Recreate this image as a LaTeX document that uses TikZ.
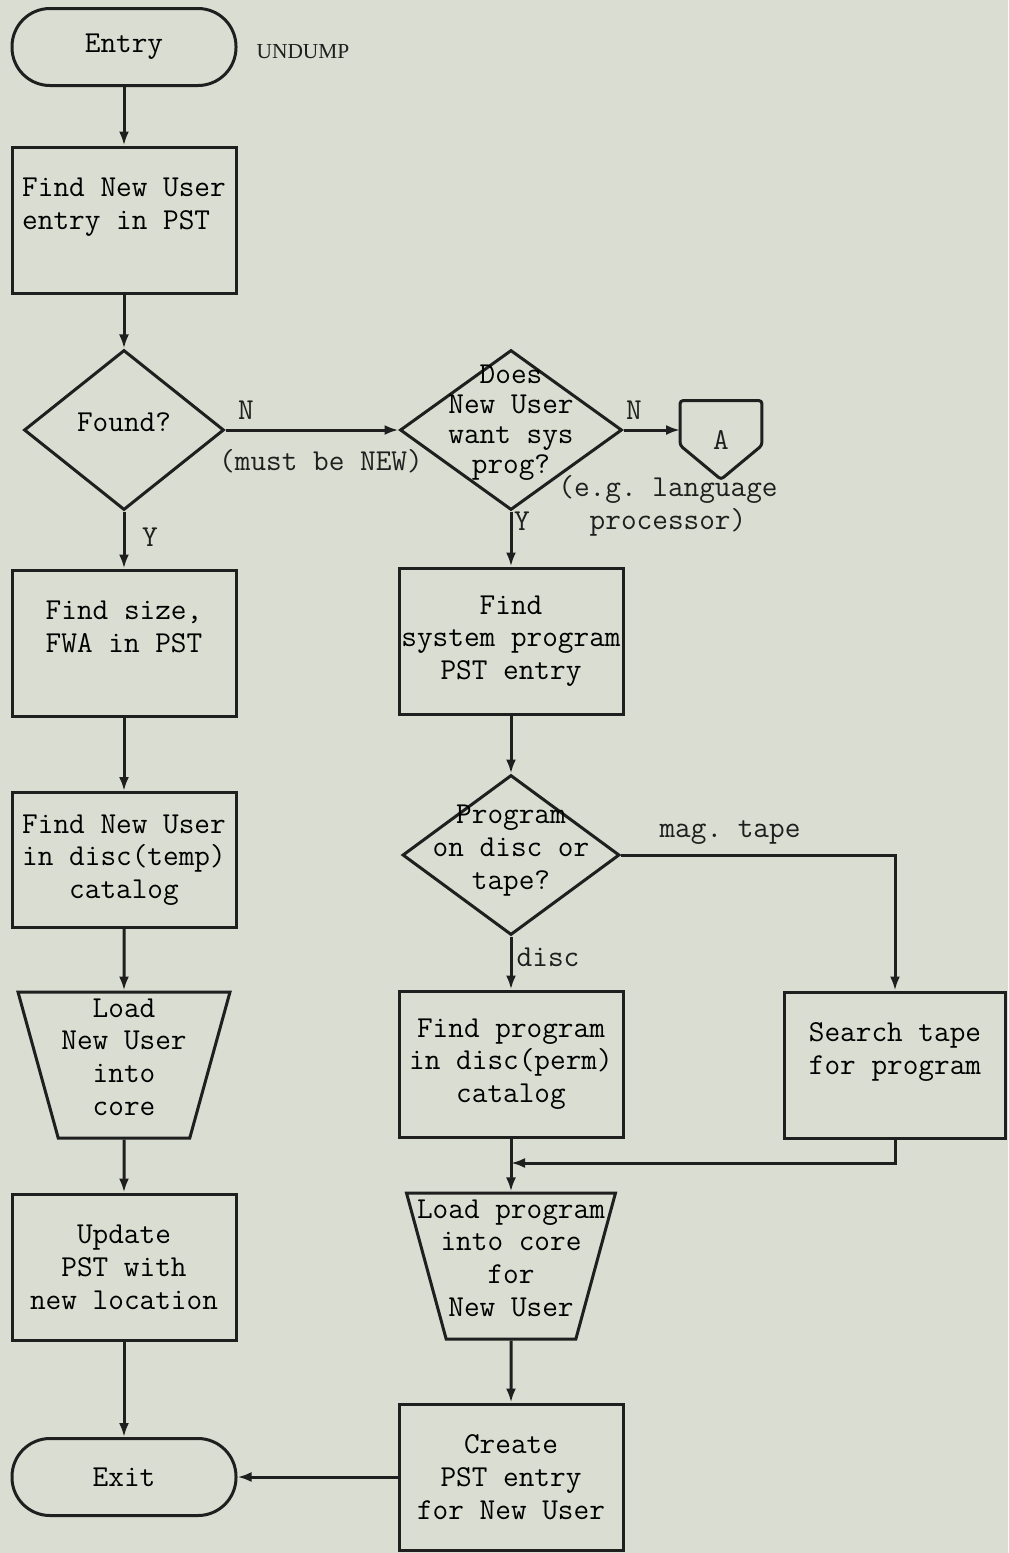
\documentclass[tikz,border=0pt]{standalone}
\usepackage{fontspec}
\setmainfont{Liberation Serif}
\usepackage{xcolor}
\usetikzlibrary{positioning, arrows.meta, shapes.geometric}
\definecolor{paper}{HTML}{DADDD1}
\definecolor{ink}{HTML}{1F1F1F}
\frenchspacing
\newcommand{\flowfont}{\ttfamily\fontsize{15.2pt}{16.4pt}\selectfont}
\newcommand{\ctext}[1]{\makebox[2pt]{\smash{\begin{tabular}{@{}c@{}}#1\end{tabular}}}\rule{0pt}{2pt}}

\tikzset{
  stepbox/.style={draw=ink, line width=1.5pt, rectangle, inner sep=0pt,
    minimum width=112pt, minimum height=73pt, align=center, font=\flowfont},
  termbox/.style={draw=ink, line width=1.5pt, rectangle, rounded corners=19pt,
    minimum width=112pt, minimum height=38.5pt, font=\flowfont},
  decision/.style={draw=ink, line width=1.5pt, diamond, inner sep=0pt,
    minimum height=80pt, font=\flowfont},
  loadbox/.style={draw=ink, line width=1.5pt, trapezium, trapezium left angle=73,
    trapezium right angle=73, shape border rotate=180, trapezium stretches=true,
    inner sep=0pt, minimum width=106pt, minimum height=73pt, font=\flowfont},
  flow/.style={draw=ink, line width=1.5pt, -{Latex[length=7pt,width=5pt]}},
  tag/.style={font=\flowfont, inner sep=0pt, text=ink},
}

\begin{document}
\begin{tikzpicture}[x=0.5pt, y=-0.5pt]
  \fill[paper] (0,0) rectangle (1008,1553);
  \useasboundingbox (0,0) rectangle (1008,1553);

  % left column
  \node[termbox] (entry) at (124,47) {Entry};
  \node[font=\fontsize{10.7pt}{12pt}\selectfont, inner sep=0pt, text=ink] (progname) at (303,52) {UNDUMP};
  \node[stepbox, align=left] (finduser) at (124,220) {Find New User\\entry in PST\\\mbox{}};
  \node[decision, minimum width=100pt] (found) at (124,430) {\ctext{Found?}};
  \node[stepbox] (findsize) at (124,643) {Find size,\\FWA in PST\\\mbox{}};
  \node[stepbox, minimum height=67.5pt] (findtemp) at (124,860) {Find New User\\in disc(temp)\\catalog};
  \node[loadbox] (loaduser) at (124,1065) {\ctext{Load\\New User\\into\\core}};
  \node[stepbox] (update) at (124,1267) {Update\\PST with\\new location};
  \node[termbox] (exit) at (124,1477) {Exit};

  % right column
  \node[decision, minimum width=111pt] (wantsys) at (511,430)
    {\raisebox{3pt}{\ctext{Does\\[-1.5pt]New User\\[-1.5pt]want sys\\[-1.5pt]prog?}}};
  \node[minimum width=40.5pt, minimum height=39pt, inner sep=0pt, font=\flowfont, text=ink] (conA) at (721,440) {A};
  \draw[ink, line width=1.5pt, rounded corners=1.5pt] (conA.north west) -- (conA.north east)
    -- ([yshift=17pt]conA.south east) -- (conA.south) -- ([yshift=17pt]conA.south west) -- cycle;
  \node[stepbox] (findsys) at (511,641) {Find\\system program\\PST entry};
  \node[decision, minimum width=108.5pt] (where) at (511,855) {\ctext{Program\\on disc or\\tape?}};
  \node[stepbox] (findperm) at (511,1064) {Find program\\in disc(perm)\\catalog};
  \node[stepbox, minimum width=110.5pt] (search) at (895,1065) {Search tape\\for program\\\mbox{}};
  \node[loadbox, minimum width=104.5pt] (loadprog) at (511,1266) {\ctext{Load program\\into core\\for\\New User}};
  \node[stepbox] (create) at (511,1477) {Create\\PST entry\\for New User};
  \coordinate (join) at (511,1163);

  % labels
  \node[tag] (nofound) at (246,410) {N};
  \node[tag] (mustnew) at (321,461) {(must be NEW)};
  \node[tag] (yesfound) at (150,537) {Y};
  \node[tag] (nosys) at (634,410) {N};
  \node[tag, align=center] (example) at (668,506) {(e.g. language\\processor)};
  \node[tag] (yessys) at (522,521) {Y};
  \node[tag] (tapelabel) at (730,833) {mag. tape};
  \node[tag] (disclabel) at (548,957) {disc};

  % connectors
  \draw[flow] (entry) -- (finduser);
  \draw[flow] (finduser) -- (found);
  \draw[flow] (found) -- (findsize);
  \draw[flow] (findsize) -- (findtemp);
  \draw[flow] (findtemp) -- (loaduser);
  \draw[flow] (loaduser) -- (update);
  \draw[flow] (update) -- (exit);
  \draw[flow] (found) -- (wantsys);
  \draw[flow] (wantsys.east) -- (wantsys.east -| conA.west);
  \draw[flow] (wantsys) -- (findsys);
  \draw[flow] (findsys) -- (where);
  \draw[flow] (where) -- (findperm);
  \draw[flow] (where.east) -| (search.north);
  \draw[flow] (search.south) |- (join);
  \draw[flow] (findperm) -- (loadprog);
  \draw[flow] (loadprog) -- (create);
  \draw[flow] (create) -- (exit);
\end{tikzpicture}
\end{document}
